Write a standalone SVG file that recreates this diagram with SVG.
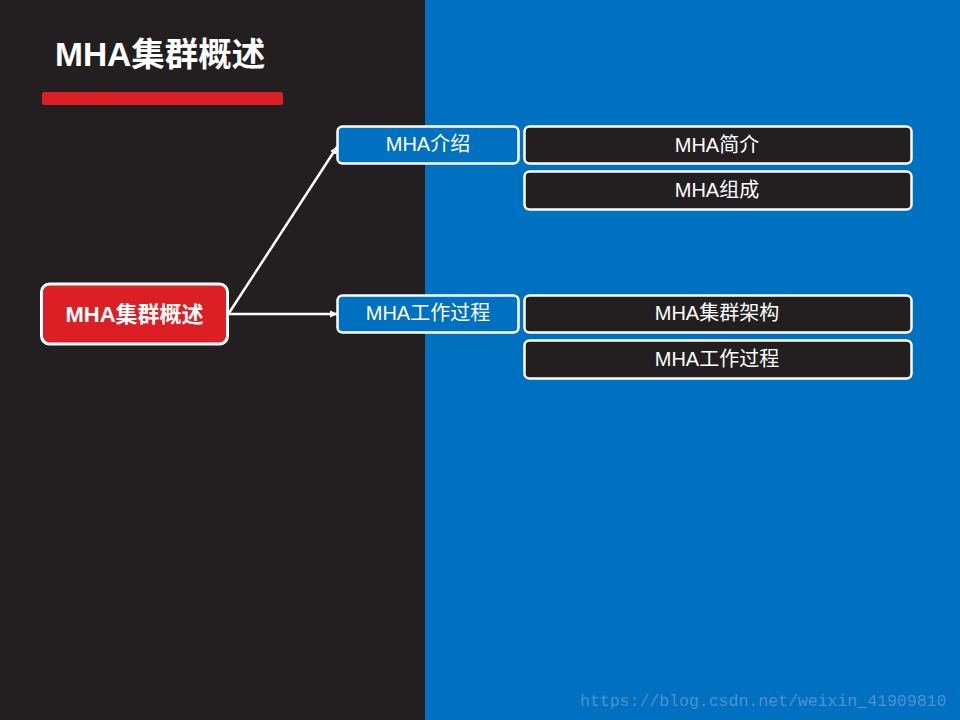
<svg xmlns="http://www.w3.org/2000/svg" width="960" height="720" viewBox="0 0 960 720">
<defs>
<style>
.t{font-family:"Liberation Sans","Noto Sans CJK SC",sans-serif;fill:#fff;text-anchor:middle;dominant-baseline:central}
.mid{fill:#0070c0;stroke:#fff;stroke-width:2.5}
.leaf{fill:#231f20;stroke:#fff;stroke-width:2.5}
.conn{stroke:#fff;stroke-width:2.5;fill:none}
.lbl{font-size:20px}
</style>
<marker id="ah" markerWidth="8" markerHeight="8" refX="7" refY="4" orient="auto" markerUnits="userSpaceOnUse">
<path d="M0,0.5 L8,4 L0,7.5 Z" fill="#fff"/>
</marker>
</defs>
<rect x="0" y="0" width="425" height="720" fill="#231f20"/>
<rect x="425" y="0" width="535" height="720" fill="#0070c0"/>
<g id="title">
<text x="55" y="54" class="t" style="text-anchor:start;font-size:33.5px;font-weight:bold">MHA集群概述</text>
<rect x="42" y="92" width="241" height="13" rx="2" fill="#dc1e25"/>
</g>
<g id="connectors">
<line x1="229" y1="313" x2="337" y2="147" class="conn" marker-end="url(#ah)"/>
<line x1="229" y1="314" x2="337" y2="314" class="conn" marker-end="url(#ah)"/>
</g>
<g id="root">
<rect x="41.5" y="284" width="186" height="60" rx="8" fill="#dc1e25" stroke="#fff" stroke-width="3"/>
<text x="134.5" y="314" class="t" style="font-size:22px;font-weight:bold">MHA集群概述</text>
</g>
<g id="intro">
<rect x="337.5" y="126.5" width="181" height="37" rx="5" class="mid"/>
<text x="428" y="144" class="t lbl">MHA介绍</text>
</g>
<g id="process">
<rect x="337.5" y="295.5" width="181" height="37" rx="5" class="mid"/>
<text x="428" y="313" class="t lbl">MHA工作过程</text>
</g>
<g id="leaf1">
<rect x="524.5" y="126.5" width="387" height="37" rx="5" class="leaf"/>
<text x="717" y="145" class="t lbl">MHA简介</text>
</g>
<g id="leaf2">
<rect x="524.5" y="171.5" width="387" height="38" rx="5" class="leaf"/>
<text x="717" y="190" class="t lbl">MHA组成</text>
</g>
<g id="leaf3">
<rect x="524.5" y="295.5" width="387" height="37" rx="5" class="leaf"/>
<text x="717" y="313" class="t lbl">MHA集群架构</text>
</g>
<g id="leaf4">
<rect x="524.5" y="340.5" width="387" height="38" rx="5" class="leaf"/>
<text x="717" y="359" class="t lbl">MHA工作过程</text>
</g>
<text x="580" y="706" style="font-family:'Liberation Mono',monospace;font-size:16.5px;fill:#4f92cf">https://blog.csdn.net/weixin_41909810</text>
</svg>
